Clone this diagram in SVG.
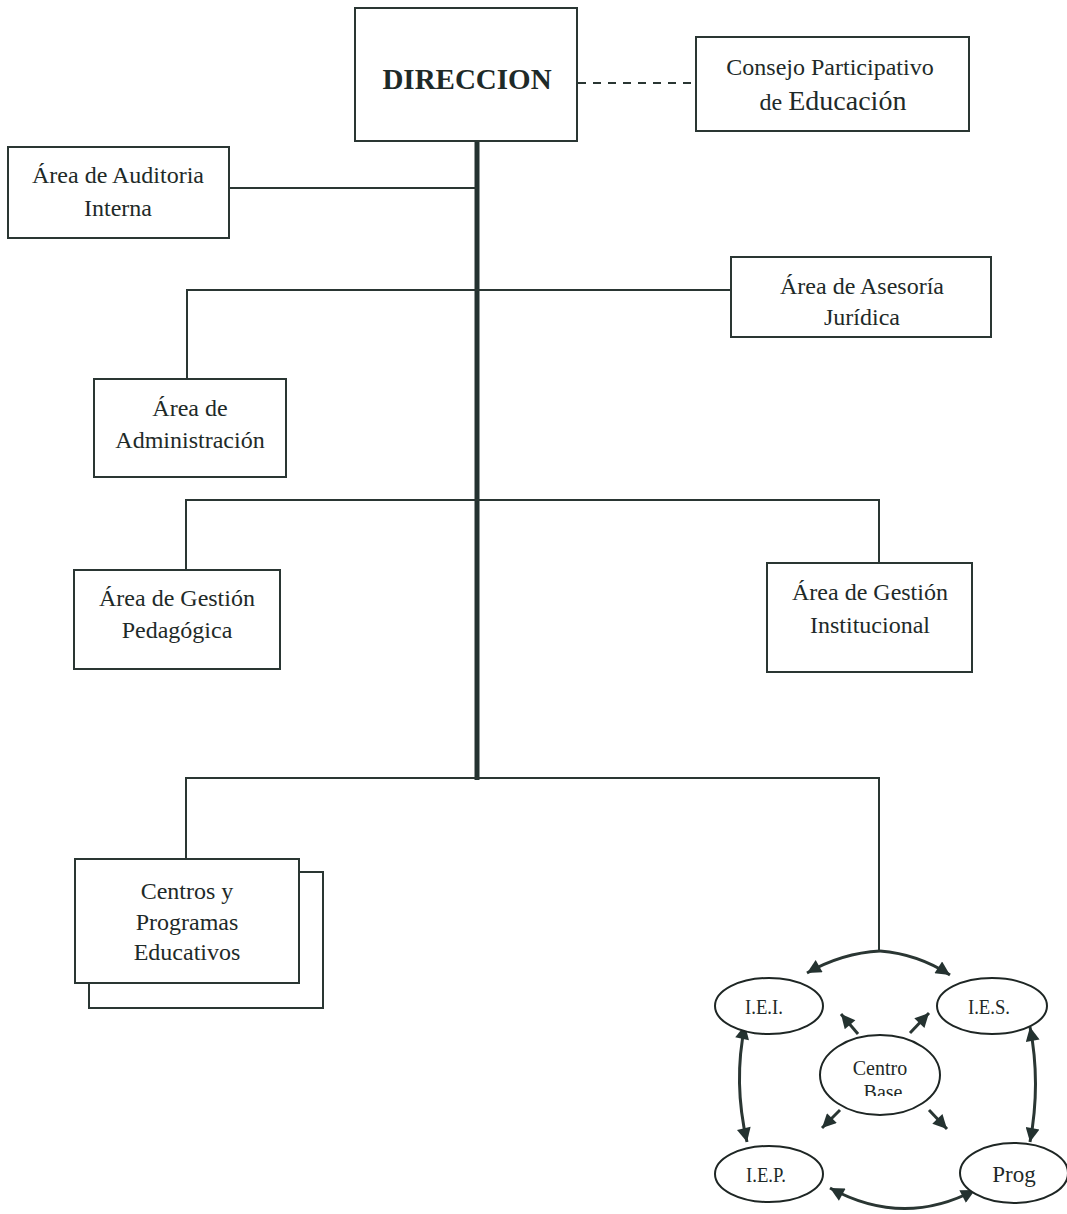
<svg xmlns="http://www.w3.org/2000/svg" width="1067" height="1214" viewBox="0 0 1067 1214">
<style>
  .box{fill:#fff;stroke:#2a3633;stroke-width:2}
  .ln{fill:none;stroke:#2a3633;stroke-width:2}
  .trunk{fill:none;stroke:#243230;stroke-width:5}
  .dash{fill:none;stroke:#2a3633;stroke-width:2;stroke-dasharray:8 7}
  .arr{fill:none;stroke:#2a3633;stroke-width:3}
  .ell{fill:#fff;stroke:#1e2624;stroke-width:2}
  text{font-family:"Liberation Serif","Times New Roman",serif;fill:#1e2a28;text-anchor:middle}
  .t{font-size:24px}
  .big{font-size:29px;font-weight:bold}
  .ed{font-size:28px}
  .e{font-size:22px}
  .cb{font-size:20px}
</style>
<defs>
  <marker id="ah" viewBox="0 0 10 10" refX="10" refY="5" markerWidth="17" markerHeight="14" markerUnits="userSpaceOnUse" orient="auto-start-reverse">
    <path d="M0,0 L10,5 L0,10 z" fill="#243230"/>
  </marker>
  <clipPath id="cbclip"><rect x="800" y="1040" width="150" height="56"/></clipPath>
</defs>

<g id="connectors">
  <line class="trunk" x1="477" y1="141" x2="477" y2="780"/>
  <line class="dash" x1="578" y1="83" x2="696" y2="83"/>
  <line class="ln" x1="229" y1="188" x2="477" y2="188"/>
  <polyline class="ln" points="187,379 187,290 731,290"/>
  <polyline class="ln" points="186,570 186,500 879,500 879,563"/>
  <polyline class="ln" points="186,858 186,778 879,778 879,951"/>
  <path class="arr" d="M880,951 Q842,953 807,973" marker-end="url(#ah)"/>
  <path class="arr" d="M880,951 Q918,954 950,975" marker-end="url(#ah)"/>
  <path class="arr" d="M745,1025 Q733,1082 747,1142" marker-start="url(#ah)" marker-end="url(#ah)"/>
  <path class="arr" d="M1030,1027 Q1041,1083 1030,1142" marker-start="url(#ah)" marker-end="url(#ah)"/>
  <path class="arr" d="M830,1188 Q903,1228 975,1190" marker-start="url(#ah)" marker-end="url(#ah)"/>
  <line class="arr" x1="858" y1="1034" x2="841" y2="1014" marker-end="url(#ah)"/>
  <line class="arr" x1="910" y1="1033" x2="929" y2="1013" marker-end="url(#ah)"/>
  <line class="arr" x1="840" y1="1110" x2="822" y2="1128" marker-end="url(#ah)"/>
  <line class="arr" x1="929" y1="1110" x2="947" y2="1129" marker-end="url(#ah)"/>
</g>

<g id="direccion">
  <rect class="box" x="355" y="8" width="222" height="133"/>
  <text class="big" x="467" y="89">DIRECCION</text>
</g>

<g id="consejo">
  <rect class="box" x="696" y="37" width="273" height="94"/>
  <text class="t" x="830" y="75">Consejo Participativo</text>
  <text x="833" y="110"><tspan class="t">de </tspan><tspan class="ed">Educación</tspan></text>
</g>

<g id="auditoria">
  <rect class="box" x="8" y="147" width="221" height="91"/>
  <text class="t" x="118" y="183">Área de Auditoria</text>
  <text class="t" x="118" y="216">Interna</text>
</g>

<g id="asesoria">
  <rect class="box" x="731" y="257" width="260" height="80"/>
  <text class="t" x="862" y="294">Área de Asesoría</text>
  <text class="t" x="862" y="325">Jurídica</text>
</g>

<g id="administracion">
  <rect class="box" x="94" y="379" width="192" height="98"/>
  <text class="t" x="190" y="416">Área de</text>
  <text class="t" x="190" y="448">Administración</text>
</g>

<g id="pedagogica">
  <rect class="box" x="74" y="570" width="206" height="99"/>
  <text class="t" x="177" y="606">Área de Gestión</text>
  <text class="t" x="177" y="638">Pedagógica</text>
</g>

<g id="institucional">
  <rect class="box" x="767" y="563" width="205" height="109"/>
  <text class="t" x="870" y="600">Área de Gestión</text>
  <text class="t" x="870" y="633">Institucional</text>
</g>

<g id="centros">
  <polyline class="ln" points="299,872 323,872 323,1008 89,1008 89,983"/>
  <rect class="box" x="75" y="859" width="224" height="124"/>
  <text class="t" x="187" y="899">Centros y</text>
  <text class="t" x="187" y="930">Programas</text>
  <text class="t" x="187" y="960">Educativos</text>
</g>

<g id="iei">
  <ellipse class="ell" cx="769" cy="1006" rx="54" ry="28"/>
  <text class="e" transform="translate(764,1014) scale(0.85,1)">I.E.I.</text>
</g>

<g id="ies">
  <ellipse class="ell" cx="992" cy="1006" rx="55" ry="28"/>
  <text class="e" transform="translate(989,1014) scale(0.85,1)">I.E.S.</text>
</g>

<g id="centro-base">
  <ellipse class="ell" cx="880" cy="1075" rx="60" ry="40"/>
  <text class="cb" x="880" y="1075">Centro</text>
  <text class="cb" x="883" y="1099" clip-path="url(#cbclip)">Base</text>
</g>

<g id="iep">
  <ellipse class="ell" cx="769" cy="1174" rx="54" ry="28"/>
  <text class="e" transform="translate(766,1182) scale(0.85,1)">I.E.P.</text>
</g>

<g id="prog">
  <ellipse class="ell" cx="1014" cy="1173" rx="54" ry="30"/>
  <text class="t" x="1014" y="1182" style="font-size:23px">Prog</text>
</g>
</svg>
